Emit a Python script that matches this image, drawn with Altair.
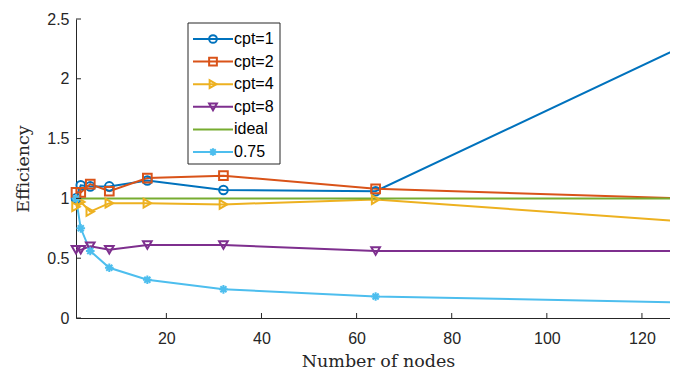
import altair as alt
import pandas as pd

# ---- data ----
nodes = [1, 2, 4, 8, 16, 32, 64, 128]
series_names = ["cpt=1", "cpt=2", "cpt=4", "cpt=8", "ideal", "0.75"]
cpt1 = [1.00, 1.11, 1.10, 1.10, 1.15, 1.07, 1.06, 2.26]
cpt2 = [1.05, 1.05, 1.12, 1.06, 1.17, 1.19, 1.08, 1.00]
cpt4 = [0.93, 0.97, 0.89, 0.96, 0.96, 0.95, 0.99, 0.81]
cpt8 = [0.57, 0.57, 0.60, 0.57, 0.61, 0.61, 0.56, 0.56]
ideal = [1.0, 1.0, 1.0, 1.0, 1.0, 1.0, 1.0, 1.0]
p075 = [1.00, 0.75, 0.56, 0.42, 0.32, 0.24, 0.18, 0.13]

x_ticks = [20, 40, 60, 80, 100, 120]
y_ticks = [0, 0.5, 1, 1.5, 2, 2.5]

colors = ["#0072BD", "#D95319", "#EDB120", "#7E2F8E", "#77AC30", "#4DBEEE"]
star = "M-1,0L1,0M0,-1L0,1M-0.7,-0.7L0.7,0.7M-0.7,0.7L0.7,-0.7"
shapes = ["circle", "square", "triangle-right", "triangle-down", "circle", star]

rows = []
for name, vals in zip(series_names, [cpt1, cpt2, cpt4, cpt8, ideal, p075]):
    for n, v in zip(nodes, vals):
        rows.append({"series": name, "nodes": n, "eff": v, "order": series_names.index(name)})
df = pd.DataFrame(rows)
leg = pd.DataFrame({"series": series_names, "idx": list(range(len(series_names)))})
xt = pd.DataFrame({"t": x_ticks})
yt = pd.DataFrame({"t": y_ticks})

W, H = 604, 299
FONT = "Liberation Sans"
SERIF = "DejaVu Serif"
AX = "#262626"

color = alt.Color("series:N", scale=alt.Scale(domain=series_names, range=colors), legend=None)
shape = alt.Shape("series:N", scale=alt.Scale(domain=series_names, range=shapes), legend=None)
xs = alt.Scale(domain=[1, 128], nice=False, zero=False)
ys = alt.Scale(domain=[0, 2.5], nice=False)

base = alt.Chart(df)

lines = base.mark_line(strokeWidth=2, clip=False).encode(
    x=alt.X("nodes:Q", scale=xs,
            axis=alt.Axis(values=x_ticks, tickSize=0, grid=False, labelFont=FONT, labelFontSize=16,
                          labelColor=AX, domainColor=AX, labelPadding=12,
                          title="Number of nodes", titleFont=SERIF, titleFontSize=17.5,
                          titleFontWeight="normal", titleColor=AX, titlePadding=6)),
    y=alt.Y("eff:Q", scale=ys,
            axis=alt.Axis(values=y_ticks, tickSize=0, grid=False, format=".1~f", labelFont=FONT,
                          labelFontSize=16, labelColor=AX, domainColor=AX, labelPadding=7,
                          title="Efficiency", titleFont=SERIF, titleFontSize=17.5,
                          titleFontWeight="normal", titleColor=AX, titlePadding=14)),
    color=color,
    detail="series:N",
    order="order:Q",
    strokeWidth=alt.condition(alt.datum.series == "0.75", alt.value(2.8), alt.value(2.0)),
)

points = base.transform_filter(alt.datum.series != "ideal").mark_point(
    filled=False, size=75, strokeWidth=2, clip=False, opacity=1
).encode(
    x=alt.X("nodes:Q", scale=xs),
    y=alt.Y("eff:Q", scale=ys),
    color=color,
    shape=shape,
)

xtick_marks = alt.Chart(xt).mark_rule(color=AX, strokeWidth=1).encode(
    x=alt.X("t:Q", scale=xs), y=alt.value(H), y2=alt.value(H - 5)
)
ytick_marks = alt.Chart(yt).mark_rule(color=AX, strokeWidth=1).encode(
    y=alt.Y("t:Q", scale=ys), x=alt.value(0), x2=alt.value(5)
)

# legend box
box = alt.Chart(pd.DataFrame({"a": [0]})).mark_rect(
    fill="white", stroke=AX, strokeWidth=1
).encode(x=alt.value(112), x2=alt.value(204), y=alt.value(4), y2=alt.value(145))

legbase = alt.Chart(leg).transform_calculate(ly="20 + 22.6 * datum.idx")
leg_lines = legbase.mark_rule(strokeWidth=2).encode(
    x=alt.value(117), x2=alt.value(157), y=alt.Y("ly:Q", scale=None), color=color
)
leg_pts = legbase.transform_filter(alt.datum.series != "ideal").mark_point(
    filled=False, size=60, strokeWidth=2, opacity=1
).encode(x=alt.value(137), y=alt.Y("ly:Q", scale=None), color=color, shape=shape)
leg_text = legbase.mark_text(
    align="left", baseline="middle", font=FONT, fontSize=16, color="#000000"
).encode(x=alt.value(158), y=alt.Y("ly:Q", scale=None), text="series:N")

chart = alt.layer(
    lines, points, xtick_marks, ytick_marks, box, leg_lines, leg_pts, leg_text
).properties(
    width=W, height=H,
    autosize=alt.AutoSizeParams(type="none"),
    padding={"left": 68, "top": 11, "right": -10, "bottom": 51},
    background="white",
).configure_view(stroke=None)

chart.save("out.html", embed_options={"renderer": "svg", "actions": False})
